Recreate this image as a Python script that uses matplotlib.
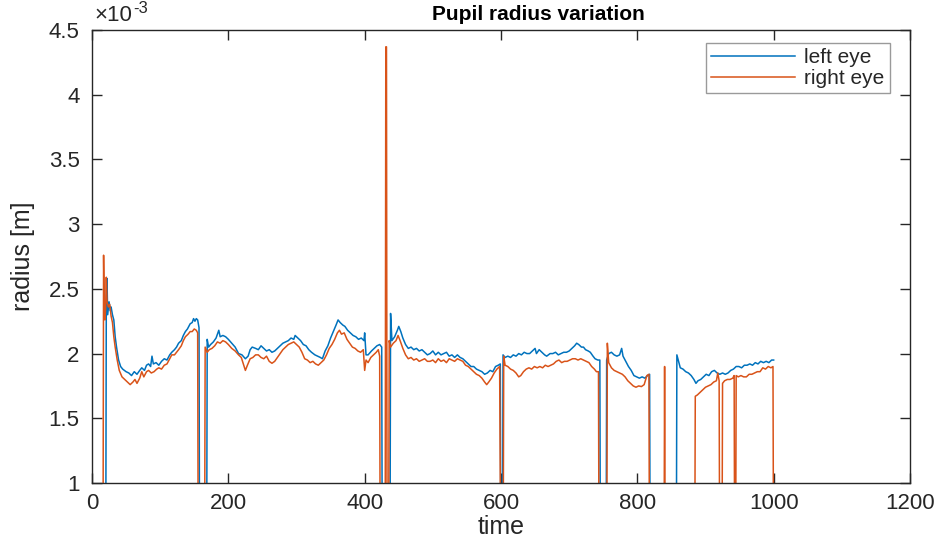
import matplotlib
matplotlib.use("Agg")
import matplotlib.pyplot as plt
from matplotlib.ticker import FuncFormatter, FixedLocator

# ---- data (radius in units of 1e-3 m; 0 = lost tracking) ----
left_t = [0, 20, 21, 22, 23, 25, 27, 28, 30, 32, 34, 36, 39, 42, 45, 50, 54, 58, 62, 66,
          70, 73, 77, 80, 83, 86, 88, 90, 94, 98, 102, 106, 110, 114, 117, 121, 124, 127, 131, 134,
          137, 140, 144, 147, 149, 151, 153, 155, 157, 158, 168, 169, 171, 174, 178, 182, 186, 188, 192, 196,
          200, 205, 210, 215, 220, 225, 229, 232, 235, 240, 244, 248, 252, 256, 260, 264, 268, 272, 276, 280,
          284, 288, 292, 296, 298, 302, 306, 310, 314, 318, 322, 327, 331, 335, 338, 342, 346, 350, 354, 358,
          361, 364, 368, 371, 375, 379, 383, 387, 391, 395, 399, 400, 402, 405, 410, 414, 418, 422, 425, 426,
          437, 438, 440, 444, 448, 450, 453, 456, 460, 464, 468, 472, 476, 480, 484, 488, 492, 496, 500, 504,
          508, 512, 516, 520, 524, 528, 532, 536, 540, 544, 548, 552, 556, 560, 564, 568, 572, 576, 580, 584,
          588, 592, 596, 599, 600, 602, 603, 606, 610, 614, 618, 622, 626, 630, 634, 638, 642, 646, 650, 652,
          656, 660, 664, 667, 672, 676, 680, 684, 688, 692, 696, 700, 704, 708, 711, 714, 718, 721, 724, 728,
          731, 735, 738, 742, 745, 746, 754, 755, 758, 762, 766, 770, 774, 777, 779, 783, 787, 791, 795, 799,
          803, 807, 811, 815, 818, 819, 857, 858, 860, 863, 867, 871, 875, 879, 883, 886, 889, 893, 897, 901,
          905, 909, 913, 917, 921, 925, 929, 933, 937, 941, 945, 949, 953, 957, 961, 965, 969, 973, 977, 981,
          985, 989, 993, 997, 1000]
left_r = [0, 0, 2.45, 2.58, 2.30, 2.40, 2.33, 2.36, 2.30, 2.26, 2.13, 2.05, 1.95, 1.90, 1.88, 1.86, 1.85, 1.83, 1.86, 1.84,
          1.87, 1.89, 1.87, 1.91, 1.92, 1.90, 1.98, 1.92, 1.93, 1.91, 1.94, 1.96, 1.95, 1.99, 2.01, 2.03, 2.05, 2.08, 2.10, 2.14,
          2.17, 2.19, 2.23, 2.24, 2.27, 2.25, 2.27, 2.26, 2.20, 0, 0, 2.11, 2.05, 2.07, 2.09, 2.12, 2.18, 2.13, 2.14, 2.13,
          2.11, 2.08, 2.05, 2.00, 1.99, 1.96, 1.98, 2.03, 2.05, 2.04, 2.03, 2.06, 2.04, 2.02, 2.03, 2.01, 2.02, 2.04, 2.06, 2.08,
          2.09, 2.10, 2.12, 2.11, 2.14, 2.12, 2.10, 2.07, 2.06, 2.03, 2.01, 1.99, 1.98, 1.97, 1.96, 2.02, 2.06, 2.12, 2.17, 2.22,
          2.26, 2.24, 2.22, 2.21, 2.18, 2.16, 2.14, 2.13, 2.11, 2.12, 2.10, 2.16, 1.99, 1.99, 2.02, 2.04, 2.06, 2.07, 2.05, 0,
          0, 2.31, 2.10, 2.13, 2.18, 2.21, 2.17, 2.12, 2.07, 2.04, 2.05, 2.03, 2.04, 2.02, 2.03, 2.01, 1.99, 2.00, 2.02, 1.99,
          2.01, 1.99, 2.00, 2.01, 1.98, 1.99, 1.97, 1.99, 1.97, 1.96, 1.94, 1.92, 1.90, 1.90, 1.88, 1.87, 1.86, 1.84, 1.85, 1.87,
          1.86, 1.90, 1.91, 1.92, 0, 0, 1.99, 1.97, 1.98, 1.97, 1.99, 1.98, 2.00, 1.99, 2.01, 2.00, 2.00, 2.02, 2.04, 2.00,
          2.03, 2.01, 1.99, 1.98, 2.00, 2.00, 2.01, 1.99, 2.00, 2.01, 2.01, 2.02, 2.04, 2.06, 2.08, 2.07, 2.05, 2.05, 2.03, 2.02,
          2.01, 1.98, 1.96, 1.95, 1.95, 0, 0, 1.95, 2.00, 2.01, 1.99, 1.98, 1.99, 2.04, 1.98, 1.94, 1.90, 1.87, 1.83, 1.82,
          1.81, 1.82, 1.81, 1.83, 1.84, 0, 0, 1.99, 1.95, 1.89, 1.88, 1.86, 1.85, 1.83, 1.80, 1.77, 1.79, 1.80, 1.82, 1.84,
          1.83, 1.86, 1.87, 1.85, 1.84, 1.85, 1.84, 1.85, 1.87, 1.88, 1.90, 1.90, 1.89, 1.91, 1.91, 1.92, 1.91, 1.93, 1.92, 1.94,
          1.93, 1.94, 1.93, 1.95, 1.95]

right_t = [0, 16, 17, 18, 19, 20, 21, 22, 24, 26, 28, 30, 32, 34, 37, 40, 44, 48, 52, 56,
           60, 63, 66, 70, 73, 76, 80, 83, 87, 91, 95, 98, 102, 106, 110, 114, 117, 121, 124, 127,
           131, 134, 137, 141, 144, 147, 150, 153, 155, 156, 165, 166, 169, 172, 176, 180, 184, 188, 192, 196,
           200, 205, 210, 215, 219, 222, 225, 228, 232, 236, 240, 244, 248, 252, 256, 260, 264, 268, 272, 276,
           280, 284, 288, 292, 296, 300, 304, 308, 312, 316, 320, 324, 328, 332, 336, 340, 344, 348, 352, 356,
           360, 363, 366, 370, 374, 378, 382, 386, 390, 394, 398, 400, 402, 405, 409, 413, 417, 420, 422, 423,
           430, 431, 432, 433, 435, 436, 438, 442, 446, 449, 452, 456, 460, 464, 468, 472, 476, 480, 484, 488,
           492, 496, 500, 504, 508, 512, 516, 520, 524, 528, 532, 536, 540, 544, 548, 552, 556, 560, 564, 568,
           572, 576, 579, 582, 586, 590, 594, 598, 600, 603, 604, 606, 610, 614, 618, 622, 626, 629, 633, 637,
           641, 645, 649, 653, 657, 661, 665, 669, 673, 677, 681, 685, 689, 693, 697, 701, 705, 709, 713, 717,
           721, 725, 729, 733, 737, 740, 743, 744, 755, 756, 758, 762, 766, 770, 774, 778, 782, 786, 790, 794,
           798, 802, 806, 810, 814, 817, 818, 839, 840, 841, 884, 885, 888, 892, 896, 900, 904, 908, 912, 916,
           918, 920, 921, 924, 925, 928, 932, 936, 940, 942, 943, 944, 945, 948, 952, 956, 960, 964, 968, 972,
           976, 980, 984, 988, 992, 996, 999, 1000]
right_r = [0, 0, 2.76, 2.30, 2.26, 2.35, 2.59, 2.40, 2.36, 2.38, 2.29, 2.24, 2.13, 2.05, 1.95, 1.87, 1.82, 1.80, 1.78, 1.76,
           1.78, 1.80, 1.77, 1.81, 1.86, 1.82, 1.86, 1.87, 1.85, 1.86, 1.88, 1.89, 1.88, 1.91, 1.92, 1.96, 1.99, 1.99, 2.01, 2.03,
           2.06, 2.10, 2.13, 2.15, 2.17, 2.17, 2.19, 2.18, 2.16, 0, 0, 2.05, 2.01, 2.03, 2.04, 2.06, 2.09, 2.08, 2.10, 2.09,
           2.07, 2.04, 2.02, 1.99, 1.97, 1.92, 1.87, 1.91, 1.96, 1.97, 1.99, 1.99, 1.97, 1.96, 1.98, 1.94, 1.925, 1.94, 1.97, 2.00,
           2.03, 2.05, 2.07, 2.08, 2.09, 2.07, 2.05, 2.01, 1.96, 1.95, 1.93, 1.94, 1.92, 1.91, 1.93, 1.95, 1.99, 2.04, 2.07, 2.11,
           2.16, 2.18, 2.15, 2.16, 2.11, 2.08, 2.05, 2.04, 2.02, 2.01, 2.03, 1.87, 1.95, 1.93, 1.97, 1.99, 2.01, 2.03, 1.98, 0,
           0, 4.37, 4.37, 0, 0, 2.10, 2.05, 2.08, 2.10, 2.14, 2.10, 2.04, 1.99, 1.96, 1.97, 1.95, 1.96, 1.94, 1.95, 1.96,
           1.94, 1.94, 1.95, 1.93, 1.96, 1.94, 1.95, 1.93, 1.96, 1.95, 1.94, 1.96, 1.95, 1.94, 1.91, 1.90, 1.88, 1.86, 1.84, 1.83,
           1.81, 1.78, 1.76, 1.78, 1.81, 1.85, 1.88, 1.90, 0, 0, 1.98, 1.91, 1.90, 1.88, 1.87, 1.85, 1.82, 1.83, 1.86, 1.88,
           1.89, 1.88, 1.90, 1.89, 1.90, 1.89, 1.91, 1.90, 1.91, 1.92, 1.94, 1.95, 1.93, 1.94, 1.94, 1.95, 1.96, 1.96, 1.95, 1.96,
           1.95, 1.94, 1.93, 1.90, 1.88, 1.86, 1.86, 0, 0, 2.08, 1.93, 1.89, 1.87, 1.86, 1.85, 1.84, 1.82, 1.79, 1.77, 1.75,
           1.74, 1.75, 1.745, 1.76, 1.83, 1.84, 0, 0, 1.90, 0, 0, 1.67, 1.68, 1.70, 1.72, 1.74, 1.75, 1.76, 1.78, 1.79,
           1.85, 1.79, 0, 0, 1.77, 1.79, 1.80, 1.80, 1.81, 1.83, 0, 0, 1.83, 1.82, 1.83, 1.82, 1.82, 1.84, 1.84, 1.85,
           1.86, 1.86, 1.89, 1.88, 1.90, 1.89, 1.90, 0]

x_ticks = [0, 200, 400, 600, 800, 1000, 1200]
y_ticks = [1.0, 1.5, 2.0, 2.5, 3.0, 3.5, 4.0, 4.5]
SCALE = 1e-3

plt.rcParams['font.family'] = ['Liberation Sans', 'DejaVu Sans']
AX_COLOR = '#262626'

fig = plt.figure(figsize=(9.40, 5.39), dpi=100)
ax = fig.add_axes([92/940, 1 - 483/539, (910 - 92)/940, (483 - 30)/539])

ax.plot(left_t, [v * SCALE for v in left_r], color='#0072BD', lw=1.1, label='left eye')
ax.plot(right_t, [v * SCALE for v in right_r], color='#D95319', lw=1.1, label='right eye')

ax.set_xlim(0, 1200)
ax.set_ylim(y_ticks[0] * SCALE, y_ticks[-1] * SCALE)
ax.xaxis.set_major_locator(FixedLocator(x_ticks))
ax.yaxis.set_major_locator(FixedLocator([v * SCALE for v in y_ticks]))
ax.yaxis.set_major_formatter(FuncFormatter(lambda v, p: f"{v / SCALE:g}"))

ax.tick_params(direction='in', length=7, width=1.0, colors=AX_COLOR,
               labelsize=16, top=True, right=True)
ax.tick_params(axis='x', pad=7)
ax.tick_params(axis='y', pad=9)
for s in ax.spines.values():
    s.set_color(AX_COLOR)
    s.set_linewidth(1.0)

ax.set_xlabel('time', fontsize=18, color=AX_COLOR, labelpad=1)
ax.set_ylabel('radius [m]', fontsize=18, color=AX_COLOR, labelpad=10)
ax.text(538/940, 1 - 15/539, 'Pupil radius variation', transform=fig.transFigure,
        fontsize=15, fontweight='bold', color='black', ha='center', va='center')

ax.text(0.003, 1.008, '\u00d710', transform=ax.transAxes, fontsize=16, color=AX_COLOR,
        ha='left', va='bottom')
ax.text(0.050, 1.030, '-3', transform=ax.transAxes, fontsize=12, color=AX_COLOR,
        ha='left', va='bottom')

leg = ax.legend(loc='upper right', bbox_to_anchor=(0.975, 0.972), fontsize=15,
                frameon=True, fancybox=False, edgecolor='#9a9a9a', framealpha=1,
                handlelength=4.0, borderpad=0.25, labelspacing=0.1, handletextpad=0.45,
                borderaxespad=0)
leg.get_frame().set_linewidth(1.0)
for txt in leg.get_texts():
    txt.set_color(AX_COLOR)

fig.savefig('out.png', dpi=100, facecolor='white')
